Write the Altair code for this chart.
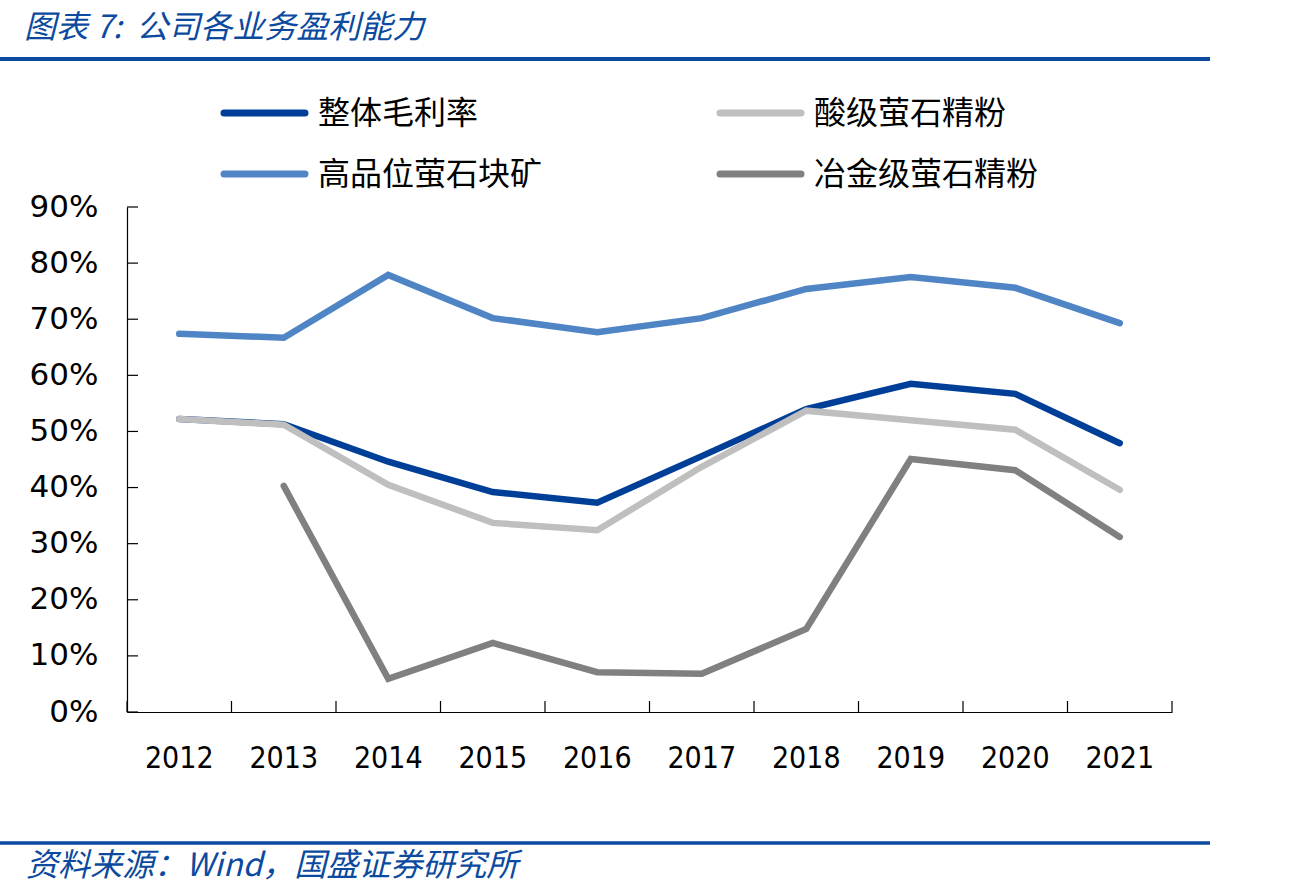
import altair as alt
import pandas as pd

# Gross margin by business line, 2012-2021 (%)
years = ["2012", "2013", "2014", "2015", "2016", "2017", "2018", "2019", "2020", "2021"]
overall = [52.2, 51.3, 44.6, 39.2, 37.3, 45.6, 54.0, 58.5, 56.7, 47.9]
acid_grade = [52.2, 51.2, 40.5, 33.7, 32.4, 43.7, 53.7, 52.0, 50.3, 39.6]
high_grade_lump = [67.4, 66.7, 77.9, 70.2, 67.7, 70.2, 75.4, 77.5, 75.6, 69.3]
metallurgical = [None, 40.3, 5.9, 12.3, 7.1, 6.8, 14.8, 45.1, 43.1, 31.2]

series_names = ["整体毛利率", "酸级萤石精粉", "高品位萤石块矿", "冶金级萤石精粉"]
series_colors = ["#003f98", "#bfbfbf", "#4f85c5", "#808080"]
series_values = [overall, acid_grade, high_grade_lump, metallurgical]

y_ticks = [0, 10, 20, 30, 40, 50, 60, 70, 80, 90]

title_text = "图表 7:\u00a0\u00a0公司各业务盈利能力"
source_text = "资料来源：Wind，国盛证券研究所"

rows = []
for name, vals in zip(series_names, series_values):
    for yr, v in zip(years, vals):
        rows.append({"year": yr, "series": name, "value": v})
df = pd.DataFrame(rows)

W, H = 1045, 505
LEFT, TOP = 127, 207
BLUE = "#0b4a9e"
LATIN = "DejaVu Sans"
CJK = "Noto Sans CJK SC"

x_scale = alt.Scale(domain=years, paddingInner=0, paddingOuter=0)
y_scale = alt.Scale(domain=[0, 90], nice=False, zero=True)
color_scale = alt.Scale(domain=series_names, range=series_colors)

x_enc = alt.X(
    "year:N", sort=years, scale=x_scale,
    axis=alt.Axis(
        title=None, ticks=False, grid=False, labelAngle=0,
        labelFont="DejaVu Sans Condensed", labelFontSize=30, labelColor="#000",
        labelPadding=31, domainColor="#000", domainWidth=1.2,
    ),
)
y_enc = alt.Y(
    "value:Q", scale=y_scale,
    axis=alt.Axis(
        title=None, values=y_ticks, ticks=False, grid=False,
        labelFont=LATIN, labelFontSize=31, labelColor="#000",
        labelPadding=29, labelExpr="datum.value + '%'",
        domainColor="#000", domainWidth=1.2,
    ),
)

base = alt.Chart(df)

lines = [
    base.transform_filter(alt.datum.series == name)
    .mark_line(strokeWidth=6.5, strokeCap="round", strokeJoin="miter")
    .encode(x=x_enc, y=y_enc,
            color=alt.Color("series:N", scale=color_scale, legend=None))
    for name in series_names
]

# inward tick marks on both axes
tick_df = pd.DataFrame({"value": y_ticks})
y_tick_marks = alt.Chart(tick_df).mark_rule(color="#000", strokeWidth=1.2).encode(
    y=alt.Y("value:Q", scale=y_scale, title=None),
    x=alt.value(0), x2=alt.value(11),
)
year_df = pd.DataFrame({"year": years})
x_tick_marks = alt.Chart(year_df).mark_rule(color="#000", strokeWidth=1.2).encode(
    x=alt.X("year:N", sort=years, bandPosition=0, scale=x_scale, title=None),
    y=alt.value(H), y2=alt.value(H - 11),
)
one = year_df.head(1)
end_tick = alt.Chart(one).mark_rule(color="#000", strokeWidth=1.2).encode(
    x=alt.value(W), y=alt.value(H), y2=alt.value(H - 11),
)

# two-column legend above the plot
leg_col_x = [97, 593]
leg_row_y = [-94, -33]
leg_rows = []
for i, name in enumerate(series_names):
    cx = leg_col_x[i % 2]
    ry = leg_row_y[i // 2]
    leg_rows.append({"series": name, "x0": cx, "x1": cx + 81, "tx": cx + 94, "y": ry})
leg_df = pd.DataFrame(leg_rows)
leg_lines = alt.Chart(leg_df).mark_rule(strokeWidth=7, strokeCap="round").encode(
    x=alt.X("x0:Q", scale=None), x2="x1:Q", y=alt.Y("y:Q", scale=None),
    color=alt.Color("series:N", scale=color_scale, legend=None),
)
leg_text = alt.Chart(leg_df).mark_text(
    font=CJK, fontSize=32, color="#000", align="left", baseline="middle", dy=1,
).encode(x=alt.X("tx:Q", scale=None), y=alt.Y("y:Q", scale=None), text="series:N")

# header and footer
head_rule = alt.Chart(one).mark_rule(color=BLUE, strokeWidth=4).encode(
    x=alt.value(-LEFT), x2=alt.value(1210 - LEFT), y=alt.value(59 - TOP),
)
foot_rule = alt.Chart(one).mark_rule(color=BLUE, strokeWidth=3.5).encode(
    x=alt.value(-LEFT), x2=alt.value(1210 - LEFT), y=alt.value(843 - TOP),
)
title_mark = alt.Chart(one).mark_text(
    text=title_text, font=CJK, fontSize=32, fontStyle="italic", color=BLUE,
    align="left", baseline="alphabetic",
).encode(x=alt.value(24 - LEFT), y=alt.value(38 - TOP))
source_mark = alt.Chart(one).mark_text(
    text=source_text, font=CJK, fontSize=32, fontStyle="italic", color=BLUE,
    align="left", baseline="alphabetic",
).encode(x=alt.value(26 - LEFT), y=alt.value(876 - TOP))

chart = alt.layer(
    *lines, y_tick_marks, x_tick_marks, end_tick, leg_lines, leg_text,
    head_rule, foot_rule, title_mark, source_mark,
).properties(
    width=W, height=H,
    autosize=alt.AutoSizeParams(type="none"),
    padding={"left": LEFT, "top": TOP, "right": 1307 - LEFT - W, "bottom": 895 - TOP - H},
).configure(background="white").configure_view(stroke=None)

chart.save("out.html", embed_options={"renderer": "svg", "actions": False})
